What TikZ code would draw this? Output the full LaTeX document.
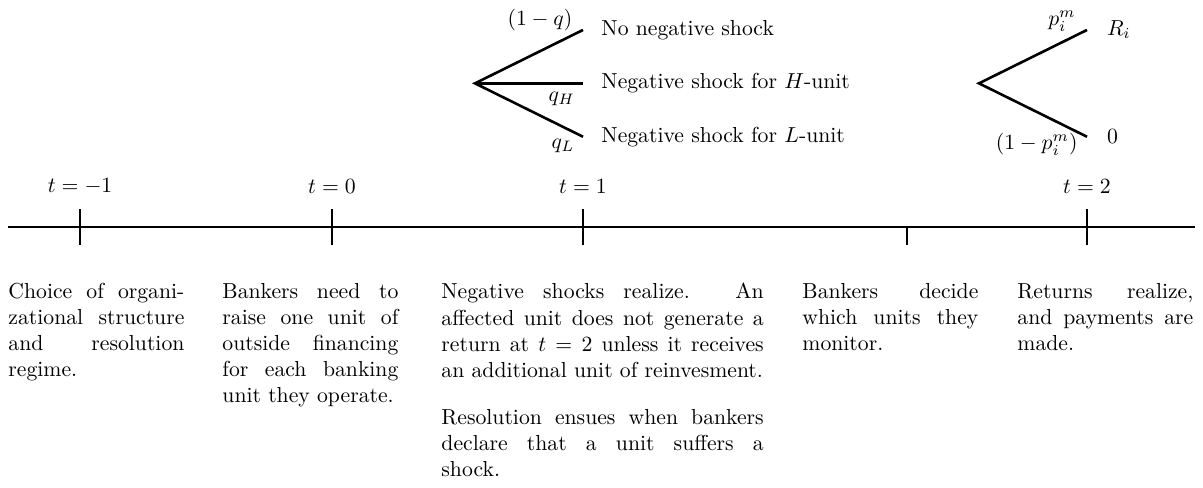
\documentclass[tikz,border=0pt]{standalone}
\usepackage{amsmath}
\usetikzlibrary{positioning}

\begin{document}
\begin{tikzpicture}[
    event/.style={text width=2.85cm, align=justify, inner sep=0pt, anchor=north west},
    branch/.style={very thick},
    prob/.style={inner sep=1pt}
  ]
  \useasboundingbox (0,-4.227) rectangle (19.485,3.677);
  % Time line
  \coordinate (tl0) at (0.13,0);
  \coordinate (tl1) at (19.355,0);
  \draw[very thick] (tl0) -- (tl1);
  % Dates with ticks
  \foreach \name/\x/\lab in {tm/1.296/{-1}, tz/5.377/0, to/9.443/1, tt/17.606/2} {
    \draw[very thick] (\x,-0.287) -- (\x,0.287);
    \node (\name) at (\x,0.653) {$t=\lab$};
  }
  % Monitoring (no date)
  \draw[very thick] (14.69,0) -- (14.69,-0.287);

  % Shock tree at t=1
  \coordinate (r1) at (7.693,2.327);
  \coordinate (s1) at (9.443,3.192);
  \coordinate (s2) at (9.443,2.327);
  \coordinate (s3) at (9.443,1.462);
  \draw[branch] (s1) -- (r1) -- (s3);
  \draw[branch] (r1) -- (s2);
  \node[right=0.175cm of s1] (ns1) {No negative shock};
  \node[right=0.175cm of s2] (ns2) {Negative shock for $H$-unit};
  \node[right=0.175cm of s3] (ns3) {Negative shock for $L$-unit};
  \node[prob] (pq) at (8.746,3.353) {$(1-q)$};
  \node[prob] (pqh) at (9.098,2.073) {$q_H$};
  \node[prob] (pql) at (9.119,1.312) {$q_L$};

  % Return tree at t=2
  \coordinate (r2) at (15.856,2.327);
  \coordinate (u1) at (17.606,3.192);
  \coordinate (u2) at (17.606,1.462);
  \draw[branch] (u1) -- (r2) -- (u2);
  \node[right=0.2cm of u1] (nu1) {$R_i$};
  \node[right=0.2cm of u2] (nu2) {$0$};
  \node[prob] (pm) at (17.201,3.337) {$p_i^m$};
  \node[prob] (pmc) at (16.791,1.344) {$(1-p_i^m)$};

  % Events
  \node[event] (e1) at (0.13,-0.907) {Choice of organizational structure and resolution regime.};
  \node[event] (e2) at (3.596,-0.907) {Bankers need to raise one unit of outside financing for each banking unit they operate.};
  \node[event, text width=5.22cm] (e3) at (7.143,-0.907) {Negative shocks realize. An\linebreak
    affected unit does not generate a\linebreak
    return at $t=2$ unless it receives\linebreak
    an additional unit of reinvesment.\\[10pt]
    Resolution ensues when bankers\linebreak
    declare that a unit suffers a\linebreak
    shock.};
  \node[event] (e4) at (12.99,-0.907) {Bankers decide which units they monitor.};
  \node[event] (e5) at (16.472,-0.907) {Returns realize, and payments are made.};
\end{tikzpicture}
\end{document}
